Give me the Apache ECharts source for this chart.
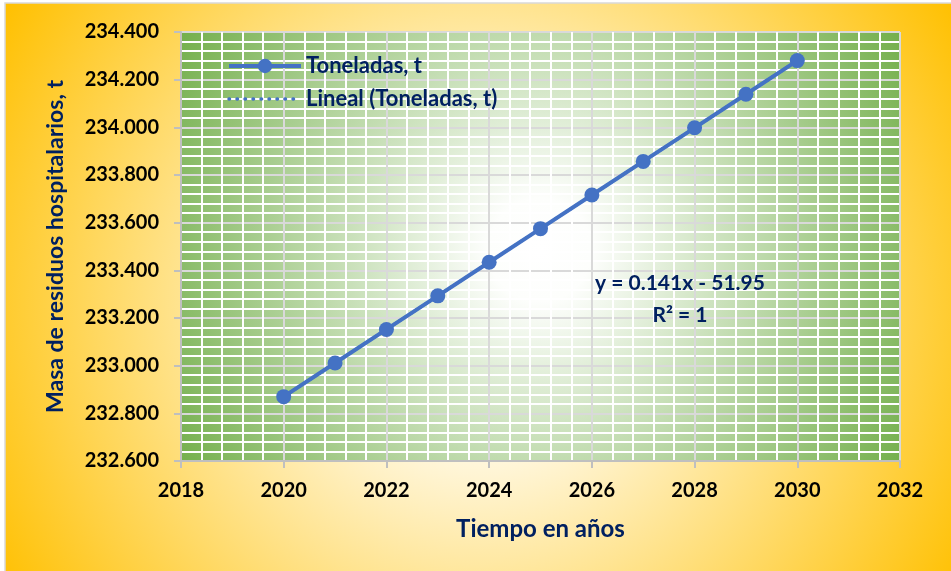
<!DOCTYPE html>
<html>
<head>
<meta charset="utf-8">
<script src="https://cdn.jsdelivr.net/npm/echarts@6/dist/echarts.min.js"></script>
<style>
html,body{margin:0;padding:0;background:#fff;}
#main{width:951px;height:571px;}
</style>
</head>
<body>
<div id="main"></div>
<script>
var years = [2020, 2021, 2022, 2023, 2024, 2025, 2026, 2027, 2028, 2029, 2030];
var toneladas = [232.870, 233.011, 233.152, 233.293, 233.434, 233.575, 233.716, 233.857, 233.998, 234.139, 234.280];
var seriesNames = ['Toneladas, t', 'Lineal (Toneladas, t)'];
var xAxisTitle = 'Tiempo en años';
var yAxisTitle = 'Masa de residuos hospitalarios, t';
var equationLines = ['y = 0.141x - 51.95', 'R² = 1'];

var navy = '#002060';
var font = 'Lato';
var chart = echarts.init(document.getElementById('main'));
var pts = years.map(function (y, i) { return [y, toneladas[i]]; });

chart.setOption({
  animation: false,
  graphic: [
    {
      type: 'rect', z: -100, silent: true,
      shape: { x: 5, y: 3, width: 960, height: 590 },
      style: {
        stroke: '#d9d9d9', lineWidth: 1.5,
        fill: {
          type: 'radial', x: 480, y: 300, r: 560, global: true,
          colorStops: [
            { offset: 0, color: '#ffffff' },
            { offset: 0.2, color: '#fffdf6' },
            { offset: 1, color: '#ffc000' }
          ]
        }
      }
    },
    {
      type: 'rect', z: -99, silent: true,
      shape: { x: 181, y: 32, width: 719, height: 429 },
      style: {
        fill: {
          type: 'radial', x: 540, y: 250, r: 430, global: true,
          colorStops: [
            { offset: 0, color: '#ffffff' },
            { offset: 0.12, color: '#fdfefc' },
            { offset: 1, color: '#70ad47' }
          ]
        }
      }
    },
    {
      type: 'text', z: 10, silent: true,
      style: {
        text: equationLines.join('\n'),
        x: 680, y: 299, textAlign: 'center', textVerticalAlign: 'middle',
        fill: navy, font: 'bold 21px ' + font, lineHeight: 32
      }
    }
  ],
  grid: { left: 181, right: 51, top: 32, bottom: 110, show: false },
  legend: {
    orient: 'vertical', left: 222, top: 49,
    itemWidth: 72, itemHeight: 18, itemGap: 9,
    data: [
      { name: seriesNames[0], lineStyle: { width: 4 } },
      { name: seriesNames[1], itemStyle: { opacity: 0 }, lineStyle: { width: 3.5, type: [0.5, 7.5], cap: 'round' } }
    ],
    textStyle: { color: navy, fontFamily: font, fontWeight: 'bold', fontSize: 22, lineHeight: 24 }
  },
  xAxis: {
    type: 'value', min: 2018, max: 2032, interval: 2,
    name: xAxisTitle, nameLocation: 'middle', nameGap: 56,
    nameTextStyle: { color: navy, fontFamily: font, fontWeight: 'bold', fontSize: 24 },
    axisLine: { show: true, lineStyle: { color: '#bfbfbf', width: 2 } },
    axisTick: { show: true, length: 7, lineStyle: { color: '#bfbfbf', width: 2 } },
    axisLabel: {
      color: '#000', fontFamily: font, fontWeight: 'bold', fontSize: 20, margin: 20,
      formatter: function (v) { return String(v); }
    },
    splitLine: { show: true, lineStyle: { color: '#d9d9d9', width: 2 } },
    minorTick: { show: false, splitNumber: 5 },
    minorSplitLine: { show: true, lineStyle: { color: '#ffffff', width: 2 } }
  },
  yAxis: {
    type: 'value', min: 232.6, max: 234.4, interval: 0.2,
    name: yAxisTitle, nameLocation: 'middle', nameGap: 114,
    nameTextStyle: { color: navy, fontFamily: font, fontWeight: 'bold', fontSize: 23 },
    axisLine: { show: true, lineStyle: { color: '#bfbfbf', width: 2 } },
    axisTick: { show: true, length: 7, lineStyle: { color: '#bfbfbf', width: 2 } },
    axisLabel: {
      color: '#000', fontFamily: font, fontWeight: 'bold', fontSize: 20, margin: 22,
      formatter: function (v) { return v.toFixed(3); }
    },
    splitLine: { show: true, lineStyle: { color: '#d9d9d9', width: 2 } },
    minorTick: { show: false, splitNumber: 5 },
    minorSplitLine: { show: true, lineStyle: { color: '#ffffff', width: 2 } }
  },
  series: [
    {
      name: seriesNames[1], type: 'line', data: pts, z: 2,
      symbol: 'none', color: '#4472c4',
      lineStyle: { color: '#4472c4', width: 3, type: 'dotted' }
    },
    {
      name: seriesNames[0], type: 'line', data: pts, z: 3,
      symbol: 'circle', symbolSize: 15, color: '#4472c4',
      itemStyle: { color: '#4472c4' },
      lineStyle: { color: '#4472c4', width: 4 }
    }
  ]
});
</script>
</body>
</html>
